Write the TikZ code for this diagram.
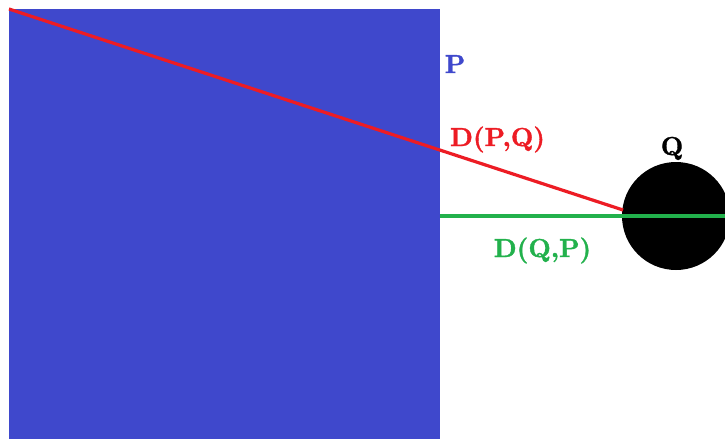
\documentclass[tikz,border=0pt]{standalone}
\usepackage{fontspec}
\newfontface\heavyfont[FakeBold=1.3]{lmroman10-bold.otf}
\definecolor{pblue}{HTML}{3F48CC}
\definecolor{pred}{HTML}{ED1C24}
\definecolor{pgreen}{HTML}{22B14C}
\begin{document}
\begin{tikzpicture}[x=1pt,y=-1pt,
  lbl/.style={font=\heavyfont\fontsize{26}{30}\selectfont, inner sep=0pt, anchor=base},
  seg/.style={line width=3.2pt}]
\useasboundingbox (0,0) rectangle (725,439);
\clip (0,0) rectangle (725,439);
\fill[white] (0,0) rectangle (725,439);
\node[fill=pblue, draw=none, minimum width=431pt, minimum height=430pt, inner sep=0pt, anchor=north west] (P) at (9,9) {};
\node[circle, fill=black, minimum size=108pt, inner sep=0pt] (Q) at (676,216) {};
\coordinate (redend) at (623,210);
\coordinate (greenend) at (725,216);
\coordinate (greenstart) at (440,216);
\draw[seg, pred] (P.north west) -- (redend);
\draw[seg, pgreen] (greenstart) -- (greenend);
\node[lbl, text=pblue] (lp) at (455,73) {P};
\node[lbl, text=pred] (lpq) at (497.5,146) {D(P,Q)};
\node[lbl, text=black] (lq) at (672,155) {Q};
\node[lbl, text=pgreen] (lqp) at (542.5,257) {D(Q,P)};
\end{tikzpicture}
\end{document}
